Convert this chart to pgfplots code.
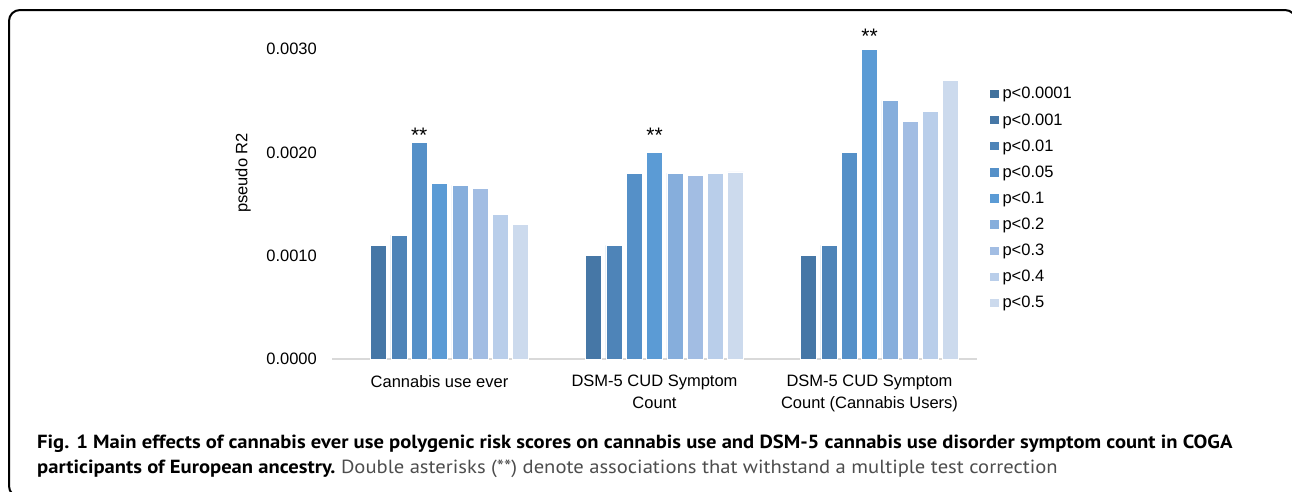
\documentclass[border=0pt]{standalone}
\usepackage{pgfplots}
\pgfplotsset{compat=1.18}
\usepackage{fontspec}
\setmainfont{Liberation Sans}
\newfontfamily\capfont[FakeStretch=1.085]{PT Sans}
\definecolor{c0}{HTML}{41719C}
\definecolor{c1}{HTML}{4677A6}
\definecolor{c2}{HTML}{4E84B8}
\definecolor{c3}{HTML}{5590C8}
\definecolor{c4}{HTML}{5B9BD5}
\definecolor{c5}{HTML}{86AEDC}
\definecolor{c6}{HTML}{A2BDE3}
\definecolor{c7}{HTML}{B9CEEA}
\definecolor{c8}{HTML}{CCDAED}
\definecolor{axgray}{HTML}{D9D9D9}
\definecolor{capgray}{HTML}{4D4D4D}
\newcommand{\fs}{\fontsize{16.5bp}{19.5bp}\selectfont}
\newcommand{\fsx}{\fontsize{16.5bp}{22bp}\selectfont}
\newcommand{\fst}{\fontsize{21bp}{24bp}\selectfont}
\begin{document}
\begin{tikzpicture}
\useasboundingbox (0,0) rectangle (1292bp,-492bp);
\draw[line width=2bp, rounded corners=11bp] (9bp,-10bp) rectangle (1296bp,-497bp);
\begin{axis}[
  at={(332bp,-359bp)}, anchor=south west,
  scale only axis, width=645bp, height=310bp,
  xmin=-0.5, xmax=2.5, ymin=0, ymax=0.003,
  ybar=4.3bp, bar width=16bp,
  clip=false,
  font=\fs,
  /pgf/number format/assume math mode=true,
  xtick={0,1,2},
  xticklabels={Cannabis use ever,{DSM-5 CUD Symptom\\Count},{DSM-5 CUD Symptom\\Count (Cannabis Users)}},
  xticklabel style={align=center, inner sep=0pt, yshift=-16bp, font=\fsx},
  ytick={0,0.001,0.002,0.003},
  scaled y ticks=false,
  yticklabel style={/pgf/number format/fixed, /pgf/number format/fixed zerofill, /pgf/number format/precision=4, inner sep=0pt, xshift=-15bp, font=\fs},
  axis line style={draw=none},
  major tick length=0pt,
  tick style={draw=none},
  legend style={at={(1.0202,0.871)}, anchor=north west, draw=none, fill=none, inner sep=0pt, outer sep=0pt, row sep=13.1bp, column sep=4bp, font=\fs, nodes={inner sep=0pt, text height=10bp, text depth=3bp, anchor=base west}},
  legend cell align=left,
  legend image code/.code={\path[#1, draw=none] (0bp,0.7bp) rectangle (8.5bp,9bp);},
  every axis plot/.append style={draw=white, line width=0.6bp},
]
\draw[axgray, line width=1.5bp] (rel axis cs:0,0) -- (rel axis cs:1,0);
\addplot[fill=none, draw=none, legend image code/.code={\fill[c0] (0bp,0.7bp) rectangle (8.5bp,9bp);}] coordinates {(0,0) (1,0) (2,0)};
\addplot[fill=c1] coordinates {(0,0.0011) (1,0.0010) (2,0.0010)};
\addplot[fill=c2] coordinates {(0,0.0012) (1,0.0011) (2,0.0011)};
\addplot[fill=c3] coordinates {(0,0.0021) (1,0.0018) (2,0.0020)};
\addplot[fill=c4] coordinates {(0,0.0017) (1,0.0020) (2,0.0030)};
\addplot[fill=c5] coordinates {(0,0.00168) (1,0.0018) (2,0.0025)};
\addplot[fill=c6] coordinates {(0,0.00165) (1,0.00178) (2,0.0023)};
\addplot[fill=c7] coordinates {(0,0.0014) (1,0.0018) (2,0.0024)};
\addplot[fill=c8] coordinates {(0,0.0013) (1,0.00181) (2,0.0027)};
\legend{p<0.0001,p<0.001,p<0.01,p<0.05,p<0.1,p<0.2,p<0.3,p<0.4,p<0.5}
\node[anchor=base, inner sep=0pt, font=\fst] at (axis cs:-0.0944,0.0021) {**};
\node[anchor=base, inner sep=0pt, font=\fst] at (axis cs:1,0.0021) {**};
\node[anchor=base, inner sep=0pt, font=\fst] at (axis cs:2,0.00305) {**};
\end{axis}
\node[rotate=90, inner sep=0pt, font=\fs] at (243bp,-173bp) {pseudo R2};
\node[anchor=base west, inner sep=0pt, font=\capfont\fontsize{19bp}{22bp}\selectfont] at (37bp,-448bp) {\bfseries Fig. 1 Main effects of cannabis ever use polygenic risk scores on cannabis use and DSM-5 cannabis use disorder symptom count in COGA};
\node[anchor=base west, inner sep=0pt, font=\capfont\fontsize{19bp}{22bp}\selectfont] at (37bp,-473bp) {{\bfseries participants of European ancestry.}\ {\color{capgray}Double asterisks (**) denote associations that withstand a multiple test correction}};
\end{tikzpicture}
\end{document}
